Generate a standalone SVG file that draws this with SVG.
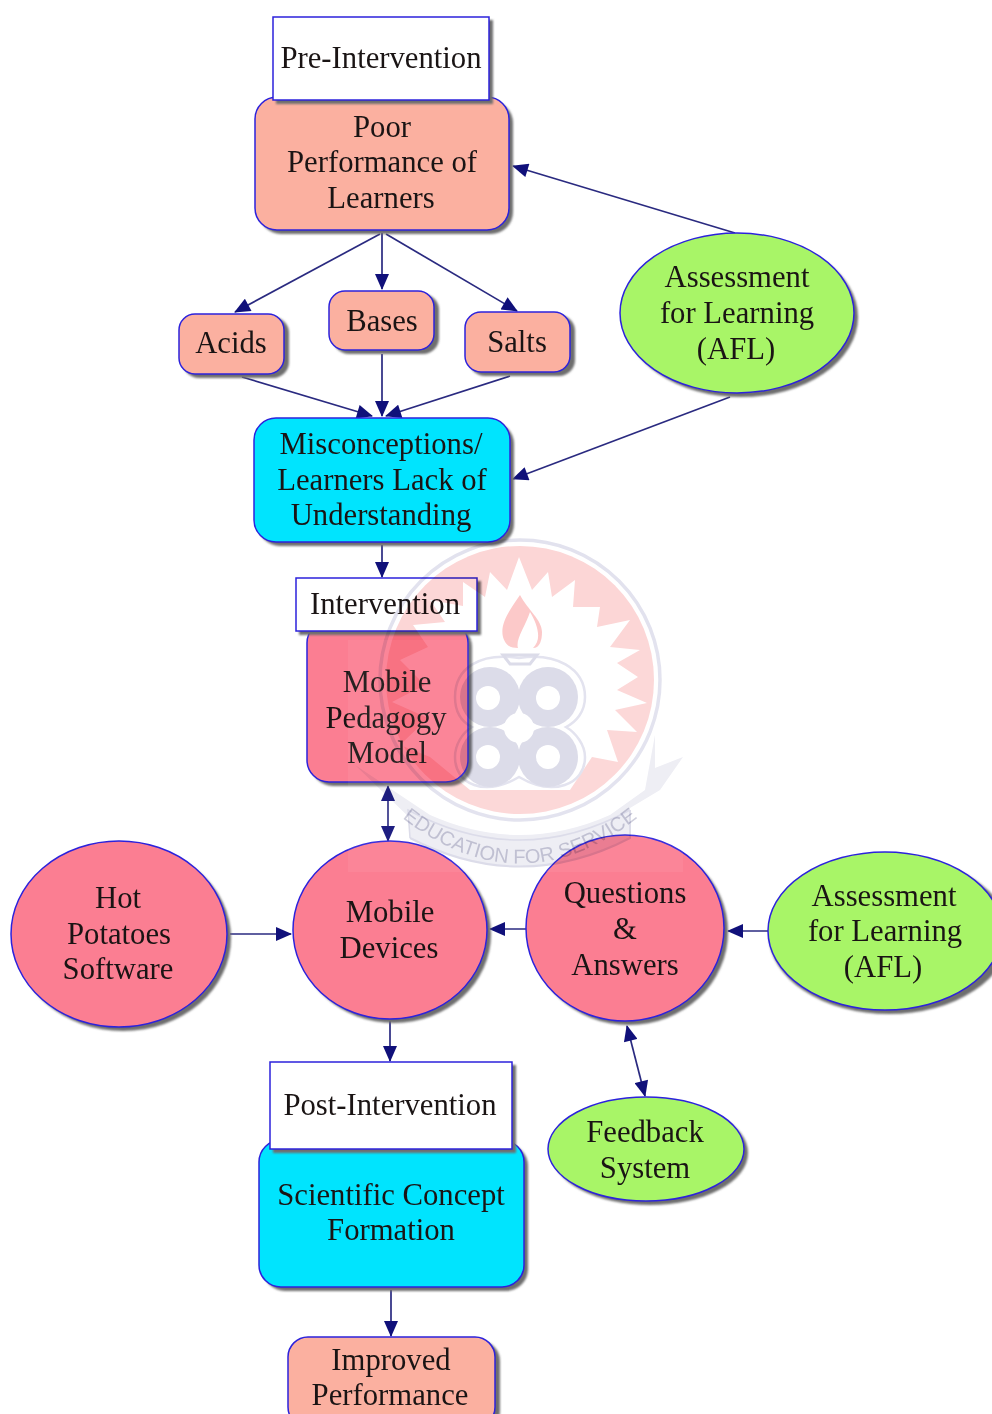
<svg xmlns="http://www.w3.org/2000/svg" width="992" height="1414" viewBox="0 0 992 1414">
<defs>
<marker id="a" viewBox="0 0 16 14" refX="15" refY="7" markerWidth="17" markerHeight="14" markerUnits="userSpaceOnUse" orient="auto-start-reverse"><path d="M0 0L16 7L0 14z" fill="#10107a"/></marker>
<path id="arc" d="M395 812Q520 915 645 812"/>
<filter id="b" x="-10%" y="-10%" width="120%" height="120%"><feGaussianBlur stdDeviation="1.3"/></filter>
</defs>
<style>
text{font-family:"Liberation Serif","Times New Roman",serif;font-size:30.7px;fill:#1a1414;text-anchor:middle}
.s{fill:#6e6e6e;stroke:none;filter:url(#b)}
.n{stroke:#2c22dc;stroke-width:1.5}
.sal{fill:#fbb0a0}.cy{fill:#00e4fe}.pk{fill:#fb7e92}.gr{fill:#a8f567}.wh{fill:#fff}
#connectors line{stroke:#2a2a80;stroke-width:1.7;marker-end:url(#a)}
#connectors line.both{marker-start:url(#a)}
.wm{mix-blend-mode:multiply}
</style>
<rect width="992" height="1414" fill="#fff"/>
<g id="connectors">
<line x1="380" y1="234" x2="235" y2="312"/>
<line x1="382" y1="233" x2="382" y2="289"/>
<line x1="386" y1="234" x2="517" y2="311"/>
<line x1="242" y1="377" x2="372" y2="416"/>
<line x1="382" y1="354" x2="382" y2="416"/>
<line x1="510" y1="376" x2="386" y2="416"/>
<line x1="735" y1="233" x2="513" y2="166"/>
<line x1="730" y1="397" x2="513" y2="479"/>
<line x1="382" y1="545" x2="382" y2="577"/>
<line class="both" x1="388" y1="786" x2="388" y2="841"/>
<line x1="230" y1="934" x2="291" y2="934"/>
<line x1="526" y1="929" x2="490" y2="929"/>
<line x1="768" y1="931" x2="728" y2="931"/>
<line class="both" x1="627" y1="1026" x2="645" y2="1096"/>
<line x1="390" y1="1021" x2="390" y2="1061"/>
<line x1="391" y1="1290" x2="391" y2="1336"/>
</g>
<g id="poor"><rect class="s" x="259" y="101" width="254" height="133" rx="22"/><rect class="n sal" x="255" y="97" width="254" height="133" rx="22"/><text x="382" y="137">Poor</text><text x="382" y="172">Performance of</text><text x="381" y="208">Learners</text></g>
<g id="pre"><rect class="s" x="276" y="20" width="217" height="84"/><rect class="n wh" x="273" y="17" width="216" height="83"/><text x="381" y="68">Pre-Intervention</text></g>
<g id="acids"><rect class="s" x="183" y="317" width="106" height="61" rx="16"/><rect class="n sal" x="179" y="314" width="105" height="60" rx="16"/><text x="231" y="353">Acids</text></g>
<g id="bases"><rect class="s" x="333" y="294" width="106" height="60" rx="16"/><rect class="n sal" x="329" y="291" width="105" height="59" rx="16"/><text x="382" y="331">Bases</text></g>
<g id="salts"><rect class="s" x="469" y="315" width="106" height="61" rx="16"/><rect class="n sal" x="465" y="312" width="105" height="60" rx="16"/><text x="517" y="352">Salts</text></g>
<g id="afl1"><ellipse class="s" cx="741" cy="317" rx="117" ry="80"/><ellipse class="n gr" cx="737" cy="313" rx="117" ry="80"/><text x="737" y="287">Assessment</text><text x="737" y="323">for Learning</text><text x="736" y="359">(AFL)</text></g>
<g id="misc"><rect class="s" x="258" y="422" width="256" height="124" rx="22"/><rect class="n cy" x="254" y="418" width="256" height="124" rx="22"/><text x="381" y="454">Misconceptions/</text><text x="382" y="490">Learners Lack of</text><text x="381" y="525">Understanding</text></g>
<g id="model"><rect class="s" x="311" y="625" width="161" height="161" rx="22"/><rect class="n pk" x="307" y="621" width="161" height="161" rx="22"/><text x="387" y="692">Mobile</text><text x="386" y="728">Pedagogy</text><text x="387" y="763">Model</text></g>
<g id="intervention"><rect class="s" x="299" y="581" width="182" height="54"/><rect class="n wh" x="296" y="578" width="181" height="53"/><text x="385" y="614">Intervention</text></g>
<g id="hot"><ellipse class="s" cx="123" cy="938" rx="108" ry="93"/><ellipse class="n pk" cx="119" cy="934" rx="108" ry="93"/><text x="118" y="908">Hot</text><text x="119" y="944">Potatoes</text><text x="118" y="979">Software</text></g>
<g id="devices"><ellipse class="s" cx="394" cy="934" rx="97" ry="89"/><ellipse class="n pk" cx="390" cy="930" rx="97" ry="89"/><text x="390" y="922">Mobile</text><text x="389" y="958">Devices</text></g>
<g id="qa"><ellipse class="s" cx="629" cy="932" rx="99" ry="93"/><ellipse class="n pk" cx="625" cy="928" rx="99" ry="93"/><text x="625" y="903">Questions</text><text x="625" y="939">&amp;</text><text x="625" y="975">Answers</text></g>
<g id="afl2"><ellipse class="s" cx="889" cy="935" rx="120" ry="79"/><ellipse class="n gr" cx="885" cy="931" rx="117" ry="79"/><text x="884" y="906">Assessment</text><text x="885" y="941">for Learning</text><text x="883" y="977">(AFL)</text></g>
<g id="feedback"><ellipse class="s" cx="650" cy="1153" rx="98" ry="52"/><ellipse class="n gr" cx="646" cy="1149" rx="98" ry="52"/><text x="645" y="1142">Feedback</text><text x="645" y="1178">System</text></g>
<g id="formation"><rect class="s" x="263" y="1144" width="265" height="147" rx="22"/><rect class="n cy" x="259" y="1140" width="265" height="147" rx="22"/><text x="391" y="1205">Scientific Concept</text><text x="391" y="1240">Formation</text></g>
<g id="post"><rect class="s" x="273" y="1065" width="243" height="88"/><rect class="n wh" x="270" y="1062" width="242" height="87"/><text x="390" y="1115">Post-Intervention</text></g>
<g id="improved"><rect class="s" x="292" y="1341" width="208" height="90" rx="20"/><rect class="n sal" x="288" y="1337" width="207" height="90" rx="20"/><text x="391" y="1370">Improved</text><text x="390" y="1405">Performance</text></g>
<g id="watermark" class="wm" style="isolation:isolate">
<circle cx="520" cy="680" r="134" fill="#fcd6d6"/>
<path fill="#fff" d="M519 557L532 590L548 572L552 597L575 580L573 607L600 607L597 627L630 620L610 647L640 650L617 663L638 677L617 690L647 703L615 710L637 732L607 730L618 762L592 757L570 790L470 790L430 757L400 745L428 718L392 702L425 685L400 660L428 647L413 625L445 622L430 600L463 606L463 582L485 597L490 572L507 590z"/>
<circle cx="520" cy="680" r="140" fill="none" stroke="#e2e2ee" stroke-width="3.5"/>
<path d="M519 658C480 652 455 668 455 697C455 712 462 722 472 727C462 733 455 745 455 757C455 785 485 797 519 777C553 797 585 785 585 757C585 745 576 733 566 727C576 722 585 712 585 697C585 668 555 652 519 658z" fill="#fff" stroke="#e2e2ee" stroke-width="2.5"/>
<g fill="#dadae8"><circle cx="490" cy="697" r="30"/><circle cx="548" cy="697" r="30"/><circle cx="490" cy="757" r="30"/><circle cx="548" cy="757" r="30"/></g>
<g fill="#fff"><circle cx="519" cy="728" r="15"/><circle cx="488" cy="698" r="12"/><circle cx="548" cy="698" r="12"/><circle cx="488" cy="757" r="12"/><circle cx="548" cy="757" r="12"/></g>
<path fill="#fcc9c9" d="M520 595C508 612 500 625 503 637C506 647 512 648 518 648C515 640 526 625 530 612C538 625 542 640 533 648C540 648 542 640 542 632C542 620 528 610 520 595z"/>
<path fill="none" stroke="#dadae8" stroke-width="3" d="M503 655H537L530 664H510z"/>
<path fill="#ededf4" d="M355 765L412 820L408 808L410 838Q520 895 630 838L630 808L660 790L683 757L655 768L655 735L645 790L610 815Q520 855 430 815z"/>
<path fill="none" stroke="#dadae8" stroke-width="2" d="M410 838Q520 895 630 838L630 810"/>
<path fill="none" stroke="#dadae8" stroke-width="1.5" d="M410 838L408 810Q520 870 630 810"/>
</g>
<rect x="348" y="640" width="335" height="232" fill="#fff" opacity=".06"/>
<text style="font-family:'Liberation Sans',sans-serif;font-size:20px;fill:#c6c6d6;opacity:.85;mix-blend-mode:multiply"><textPath href="#arc" startOffset="50%">EDUCATION FOR SERVICE</textPath></text>
</svg>
